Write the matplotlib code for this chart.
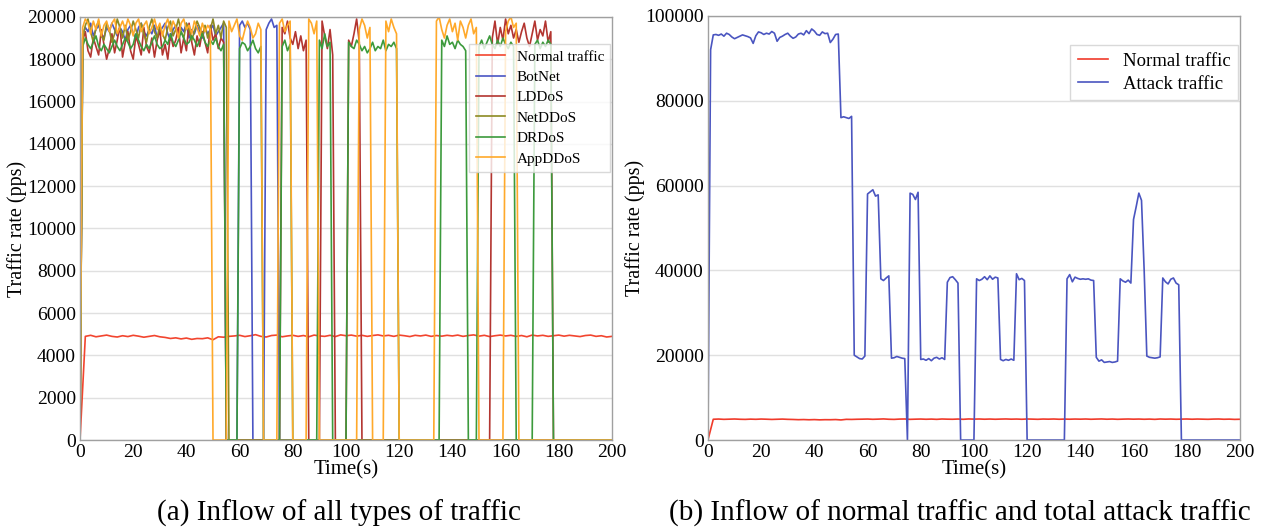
import matplotlib
matplotlib.use('Agg')
import matplotlib.pyplot as plt
import numpy as np

plt.rcParams['font.family'] = ['Liberation Serif', 'DejaVu Serif']

T_END = 200

# normal traffic, sampled every 2 s (pps)
normal_t = list(range(0, 201, 2))
normal_pps = [
    0, 4900, 4950, 4880, 4920, 4960, 4900, 4870, 4930, 4890,
    4950, 4910, 4860, 4900, 4940, 4880, 4850, 4800, 4830, 4780,
    4820, 4760, 4800, 4790, 4830, 4740, 4880, 4860, 4900, 4920,
    4950, 4890, 4930, 4980, 4900, 4870, 4940, 4960, 4880, 4920,
    4950, 4900, 4940, 4880, 4960, 4920, 4900, 4950, 4890, 4970,
    4930, 4960, 4910, 4950, 4900, 4940, 4970, 4920, 4950, 4900,
    4960, 4930, 4890, 4950, 4920, 4960, 4900, 4940, 4910, 4950,
    4920, 4960, 4900, 4940, 4970, 4910, 4950, 4890, 4930, 4960,
    4920, 4950, 4900, 4940, 4880, 4960, 4920, 4950, 4900, 4930,
    4960, 4910, 4950, 4920, 4890, 4940, 4960, 4900, 4930, 4870,
    4900,
]

# attack bursts: (start second, per-second rates); zero outside the bursts
botnet = [
    (1, [19200, 19500, 19300, 19700, 19100, 19400, 19600, 19200, 19000, 19500,
         19300, 19700, 19400, 19100, 19500, 19300, 18900, 19400, 19600, 19200,
         19000, 19500, 19700, 19300, 19100, 19400, 19200, 19600, 19000, 19300,
         19500, 19700, 19200, 18900, 19400, 19600, 19100, 19500, 19300, 19700,
         19000, 19400, 19200, 19600, 19300, 19000, 19500, 19200, 19400, 19600,
         19100, 19300, 19500, 19700]),
    (60, [19600, 19800, 19500, 19700, 19400]),
    (70, [19400, 19700, 19900, 19500, 19600]),
]
lddos = [
    (1, [18900, 19300, 18400, 18100, 19000, 18600, 18200, 19400, 18700, 18000,
         18500, 19200, 18300, 18900, 19600, 18100, 18800, 19300, 18400, 18000,
         19100, 18700, 18200, 19500, 18600, 18300, 19000, 18100, 18900, 19400,
         18200, 18700, 18000, 19200, 18600, 18900, 19500, 18300, 19000, 18400,
         19700, 18800, 18200, 19100, 18600, 19300, 18800, 18300, 19600, 18900,
         19200, 18500, 19000, 18800]),
    (76, [19500, 19200, 19800, 19000, 18700, 19300, 18500, 19100, 18400, 18900]),
    (91, [19800, 19100, 18500, 19400, 18200]),
    (101, [18900, 18600, 19200, 19900, 18800]),
    (155, [19000, 19800, 18700, 19500, 18900, 19900, 19200, 19600, 19000, 19400,
           18800, 19300, 19700, 19000, 18600, 19200, 19800, 18900, 19400, 19100,
           19800, 18800, 19300]),
]
netddos = [
    (1, [19000, 19600, 19900, 19300, 18800, 19500, 19800, 19100, 18900, 19700,
         19400, 18800, 19200, 19900, 19500, 19000, 19600, 18900, 19300, 19800,
         19400, 19000, 19700, 19200, 18800, 19500, 19900, 19300, 19000, 19600,
         19200, 18900, 19500, 19800, 19100, 19400, 19900, 19300, 19000, 19700,
         19400, 18900, 19300, 19800, 19500, 19100, 19600, 19000, 19400, 19900,
         19200, 19600, 19000, 19800, 19500]),
]
drddos = [
    (1, [18600, 19000, 18700, 18500, 18800, 19100, 18600, 18400, 18700, 18500,
         18300, 18600, 18900, 18600, 18400, 18700, 19000, 18800, 18500, 18700,
         19200, 18900, 18600, 18400, 18700, 18500, 18800, 19100, 18700, 18500,
         18600, 18900, 18700, 19200, 18800, 18600, 18900, 19300, 19000, 18700,
         18800, 19100, 18900, 18600, 18900, 19200, 18800, 18600, 18900, 18700,
         19000, 18600, 18400, 18700]),
    (60, [18500, 18800, 18700, 18400, 18600, 18900, 18500, 18300, 18600]),
    (76, [18600, 18900, 18400, 18700]),
    (90, [18900, 18500, 19200, 18600, 18800]),
    (101, [18800, 18600, 18500, 18900, 18700, 18400, 18600, 18300, 18500, 18800,
           18400, 18600, 18500, 18900, 18400, 18700, 18600, 18800, 18500]),
    (136, [18900, 18600, 19100, 18700, 18800, 18500, 18900, 18700, 18600, 18400]),
    (150, [18600, 18900, 18500, 18800, 19100, 18700, 18500, 18900, 18600, 19000,
           18700, 18500, 18800, 18600]),
    (171, [18700, 18900, 18500, 18800, 18600, 18900, 18700]),
]
appddos = [
    (1, [19500, 19900, 19700, 19200, 19800, 19400, 19900, 19100, 19600, 19800,
         19300, 19700, 19900, 19200, 19500, 19800, 19400, 19900, 19600, 19100,
         19700, 19900, 19300, 19600, 19800, 19200, 19500, 19900, 19400, 19700,
         19100, 19600, 19900, 19300, 19800, 19500, 19000, 19700, 19900, 19400,
         19600, 19200, 19800, 19500, 19100, 19700, 19300, 19600, 19400]),
    (56, [19800, 19300, 19600, 19900, 19100, 18900, 19400, 19800, 19500, 19000,
          19200, 19700, 19400]),
    (75, [19700, 19900, 19300, 19600, 19800]),
    (86, [19900, 19700, 19200, 19800]),
    (105, [19400, 19900, 19600, 19000, 19500]),
    (115, [19800, 19300, 19900, 19500, 19200]),
    (134, [19800, 20000, 19400, 19000, 19600, 19900, 19300, 19700, 18900, 19800,
           19500, 19000, 19600, 19900, 19200, 19500]),
    (160, [19300, 19800, 20000, 19500, 19700]),
]

# total attack traffic (pps)
attack = [
    (1, [92000, 95500, 95600, 95400, 95700, 95200, 95900, 95600, 95000, 94600,
         94900, 95200, 95500, 95300, 95100, 94800, 93500, 95300, 96200, 96000,
         95600, 95900, 95700, 96300, 95900, 94000, 94900, 95200, 95600, 95900,
         95200, 94700, 95000, 95700, 95900, 95500, 96500, 95800, 96900, 96400,
         95600, 95400, 96200, 95800, 95900, 93700, 94500, 95600, 95700,
         76000, 76200, 76000, 75800, 76300,
         20000, 19600, 19200, 19100, 19800,
         58000, 58500, 59000, 57500, 57800,
         38000, 37600, 38200, 38700,
         19300, 19400, 19700, 19500, 19300, 19200]),
    (76, [58200, 57900, 56700, 58400,
          19000, 19100, 18800, 19200, 18700, 19300, 19500, 19100, 19400, 19000,
          37200, 38300, 38500, 37800, 37000]),
    (101, [38000, 37600, 37900, 38500, 37800, 38700, 37900, 38400, 38200,
           19000, 18700, 19000, 18800, 19100, 18800,
           39200, 37800, 38100, 37600]),
    (135, [38000, 39000, 37300, 38400, 38100, 37900, 38000, 37900, 38000, 37700, 37600,
           19500, 18600, 18900, 18300, 18400, 18500, 18300, 18400, 18600,
           38000, 37500, 37200, 37700, 37000,
           52000, 55000, 58200, 56500, 40000,
           19800, 19500, 19400, 19300, 19400, 19600,
           38200, 37300, 36800, 37900, 38200, 37000, 36600]),
]

t = np.arange(T_END + 1)


def build(bursts):
    rate = np.zeros(T_END + 1)
    for start, values in bursts:
        rate[start:start + len(values)] = values
    return rate


colors = {
    'Normal traffic': '#f2452f',
    'BotNet': '#4a55c4',
    'LDDoS': '#b33530',
    'NetDDoS': '#8c8a22',
    'DRDoS': '#3c9a3c',
    'AppDDoS': '#ffa92a',
}
series = [
    ('BotNet', botnet),
    ('LDDoS', lddos),
    ('NetDDoS', netddos),
    ('DRDoS', drddos),
    ('AppDDoS', appddos),
]

fig = plt.figure(figsize=(12.66, 5.27), dpi=100)
ax1 = fig.add_axes([0.0632, 0.165, 0.4202, 0.803])
ax2 = fig.add_axes([0.5592, 0.165, 0.4202, 0.805])


def style(ax, ymax, step):
    ax.set_xlim(0, 200)
    ax.set_ylim(0, ymax)
    ax.set_xticks(range(0, 201, 20))
    ax.set_yticks(range(0, ymax + 1, step))
    ax.grid(axis='y', color='#e0e0e0', linewidth=1.0)
    ax.set_axisbelow(True)
    for s in ax.spines.values():
        s.set_color('#a0a0a0')
        s.set_linewidth(1.0)
    ax.tick_params(length=0, pad=3, labelsize=14)
    ax.set_xlabel('Time(s)', fontsize=15, labelpad=-1)
    ax.set_ylabel('Traffic rate (pps)', fontsize=14.5, labelpad=0)


# (a) every traffic type
ax1.plot(normal_t, normal_pps, color=colors['Normal traffic'], lw=1.2, label='Normal traffic')
for name, bursts in series:
    ax1.plot(t, build(bursts), color=colors[name], lw=1.2, label=name)
style(ax1, 20000, 2000)
ax1.legend(loc='upper right', bbox_to_anchor=(1.0, 0.94), fontsize=11,
           frameon=True, framealpha=0.8, edgecolor='#d0d0d0', fancybox=False,
           handlelength=1.9, labelspacing=0.44, borderpad=0.4, borderaxespad=0.1)

# (b) normal vs. total attack
ax2.plot(normal_t, normal_pps, color='#f03a2a', lw=1.2, label='Normal traffic')
ax2.plot(t, build(attack), color='#4a55c0', lw=1.2, label='Attack traffic')
style(ax2, 100000, 20000)
ax2.legend(loc='upper right', bbox_to_anchor=(1.0, 0.935), fontsize=13.5,
           frameon=True, framealpha=0.8, edgecolor='#d0d0d0', fancybox=False,
           handlelength=1.6, labelspacing=0.3, borderpad=0.4, borderaxespad=0.1)

fig.text(0.268, 0.012, '(a) Inflow of all types of traffic', ha='center', fontsize=21)
fig.text(0.758, 0.012, '(b) Inflow of normal traffic and total attack traffic',
         ha='center', fontsize=21)

fig.savefig('out.png', dpi=100)
plt.close(fig)
